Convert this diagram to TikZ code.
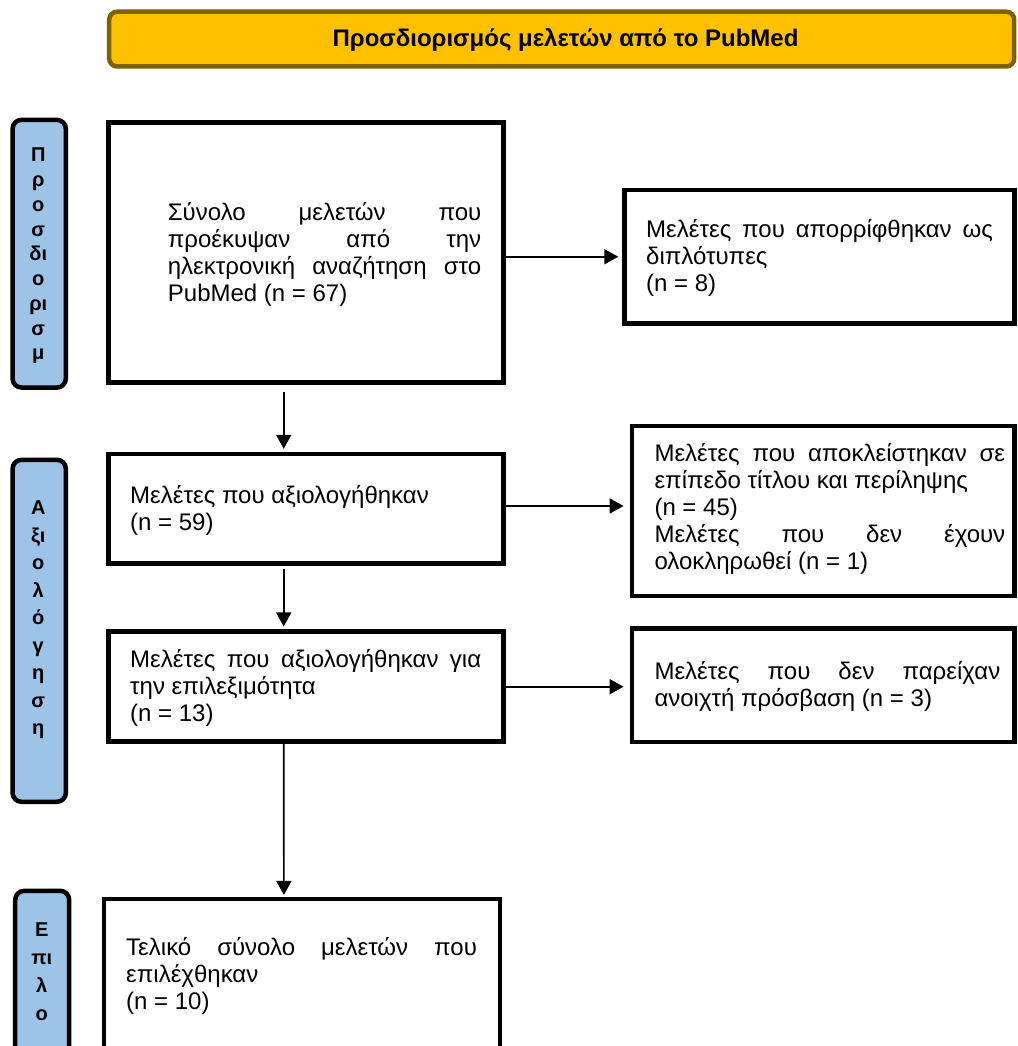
\documentclass[tikz,border=0pt]{standalone}
\usepackage{fontspec}
\setmainfont{Liberation Sans}
\usetikzlibrary{arrows.meta}
\definecolor{titlefill}{HTML}{FFC000}
\definecolor{titledraw}{HTML}{7F6000}
\definecolor{sidefill}{HTML}{9DC3E6}
\newcommand{\jl}[2]{\makebox[#1][s]{#2}}
\begin{document}
\begin{tikzpicture}[x=1pt,y=-1pt,
  box/.style={draw=black,line width=4.5pt,fill=white,rectangle,inner sep=0pt},
  sidebox/.style={draw=black,line width=4.5pt,fill=sidefill,rectangle,rounded corners=9pt,inner sep=0pt},
  titlebox/.style={draw=titledraw,line width=4.5pt,fill=titlefill,rectangle,rounded corners=8pt,inner sep=0pt},
  txt/.style={inner sep=0pt,align=left,font=\fontsize{24}{27}\selectfont},
  sidetxt/.style={inner sep=0pt,align=center},
  arr/.style={line width=1.7pt,-{Triangle[width=15pt,length=14pt]}}
]
\useasboundingbox (0,0) rectangle (1017,1046);
\clip (0,0) rectangle (1017,1046);

% title
\node[titlebox,minimum width=905pt,minimum height=54.8pt] (title) at (561.7,39.1) {};
\node[inner sep=0pt,font=\fontsize{24}{28}\bfseries] (titletxt) at (565.5,40) {Προσδιορισμός μελετών από το PubMed};

% side boxes
\node[sidebox,minimum width=53.3pt,minimum height=267.7pt] (s1) at (39.2,253.7) {};
\node[sidebox,minimum width=53.3pt,minimum height=342pt] (s2) at (39.2,630.8) {};
\node[sidebox,minimum width=54pt,minimum height=179.2pt] (s3) at (42.2,980.4) {};
\node[sidetxt,font=\fontsize{20}{24.75}\bfseries] (s1t) at (38.3,256) {Π\\ρ\\ο\\σ\\δι\\ο\\ρι\\σ\\μ};
\node[sidetxt,font=\fontsize{20}{27.5}\bfseries] (s2t) at (38.3,620) {Α\\ξι\\ο\\λ\\ό\\γ\\η\\σ\\η};
\node[sidetxt,font=\fontsize{20}{27.8}\bfseries] (s3t) at (41.7,971.7) {Ε\\πι\\λ\\ο};

% main boxes
\node[box,minimum width=395pt,minimum height=260pt] (b1) at (306,252.5) {};
\node[box,minimum width=390pt,minimum height=133.5pt] (b2) at (819.5,256.75) {};
\node[box,minimum width=395pt,minimum height=109.3pt] (b3) at (306,508.7) {};
\node[box,minimum width=382.7pt,minimum height=170pt] (b4) at (823.2,510.8) {};
\node[box,minimum width=395pt,minimum height=110pt] (b5) at (306,686.7) {};
\node[box,minimum width=382.7pt,minimum height=113.3pt] (b6) at (823.2,685.2) {};
\node[box,minimum width=396pt,minimum height=170.8pt] (b7) at (302.2,984.6) {};

% texts
\node[txt,anchor=west] (t1) at (167.7,254.3) {\jl{313.3pt}{Σύνολο μελετών που}\\\jl{313.3pt}{προέκυψαν από την}\\\jl{313.3pt}{ηλεκτρονική αναζήτηση στο}\\PubMed (n = 67)};
\node[txt,anchor=west] (t2) at (646,257.7) {\jl{346.7pt}{Μελέτες που απορρίφθηκαν ως}\\διπλότυπες\\(n = 8)};
\node[txt,anchor=west] (t3) at (130,510) {Μελέτες που αξιολογήθηκαν\\(n = 59)};
\node[txt,anchor=west] (t4) at (654.3,508.8) {\jl{350.7pt}{Μελέτες που αποκλείστηκαν σε}\\επίπεδο τίτλου και περίληψης\\(n = 45)\\\jl{350.7pt}{Μελέτες που δεν έχουν}\\ολοκληρωθεί (n = 1)};
\node[txt,anchor=west] (t5) at (130,687.8) {\jl{351pt}{Μελέτες που αξιολογήθηκαν για}\\την επιλεξιμότητα\\(n = 13)};
\node[txt,anchor=west] (t6) at (654.3,686.7) {\jl{345.7pt}{Μελέτες που δεν παρείχαν}\\ανοιχτή πρόσβαση (n = 3)};
\node[txt,anchor=west] (t7) at (126,976.1) {\jl{350.7pt}{Τελικό σύνολο μελετών που}\\επιλέχθηκαν\\(n = 10)};

% arrows
\draw[arr,shorten >=4pt] (b1.east |- b2.west) -- (b2.west);
\draw[arr,shorten <=7pt,shorten >=3pt] ([xshift=-22.3pt]b1.south) -- ([xshift=-22.3pt]b3.north);
\draw[arr,shorten <=3pt,shorten >=3pt] ([xshift=-22.3pt]b3.south) -- ([xshift=-22.3pt]b5.north);
\draw[arr,shorten >=6pt] ([yshift=2.7pt]b3.east) -- ([yshift=2.7pt]b3.east -| b4.west);
\draw[arr,shorten >=6pt] (b5.east) -- (b5.east -| b6.west);
\draw[arr,shorten >=2pt] ([xshift=-22.3pt]b5.south) -- ([xshift=-18.3pt]b7.north);
\end{tikzpicture}
\end{document}
